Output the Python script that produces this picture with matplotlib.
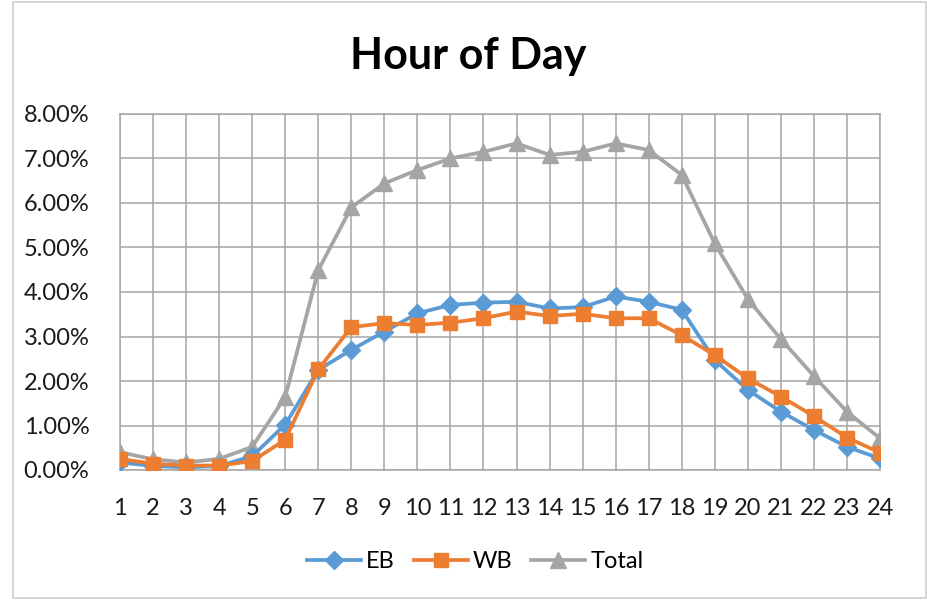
import matplotlib
matplotlib.use("Agg")
import matplotlib.pyplot as plt
from matplotlib.ticker import PercentFormatter
from matplotlib.patches import Rectangle

# hourly share of traffic (percent)
hours = list(range(1, 25))
eb = [0.17, 0.09, 0.06, 0.09, 0.31, 1.02, 2.25, 2.70, 3.11, 3.52, 3.71, 3.76,
      3.78, 3.63, 3.66, 3.90, 3.78, 3.60, 2.47, 1.80, 1.31, 0.90, 0.52, 0.26]
wb = [0.25, 0.14, 0.10, 0.10, 0.20, 0.68, 2.26, 3.21, 3.30, 3.26, 3.31, 3.41,
      3.56, 3.46, 3.51, 3.41, 3.41, 3.03, 2.58, 2.06, 1.65, 1.21, 0.73, 0.39]
total = [0.40, 0.24, 0.17, 0.25, 0.52, 1.64, 4.49, 5.90, 6.44, 6.74, 7.00, 7.15,
         7.34, 7.08, 7.15, 7.34, 7.19, 6.63, 5.09, 3.84, 2.94, 2.11, 1.31, 0.71]
y_ticks = [0, 1, 2, 3, 4, 5, 6, 7, 8]

plt.rcParams['font.family'] = ['Lato', 'DejaVu Sans']

fig = plt.figure(figsize=(9.28, 6), dpi=100)
ax = fig.add_axes([120 / 928, 130 / 600, 760 / 928, 356 / 600])

grid_col = "#A6A6A6"
ax.plot(hours, eb, color="#5B9BD5", lw=2.7, marker="D", ms=9, label="EB", zorder=3)
ax.plot(hours, wb, color="#ED7D31", lw=2.7, marker="s", ms=10.5, label="WB", zorder=4)
ax.plot(hours, total, color="#A5A5A5", lw=2.7, marker="^", ms=11.5, label="Total", zorder=2)

ax.set_xlim(1, 24)
ax.set_ylim(0, 8)
ax.set_xticks(hours)
ax.set_yticks(y_ticks)
ax.yaxis.set_major_formatter(PercentFormatter(decimals=2))
ax.grid(True, color=grid_col, lw=1.1)
ax.set_axisbelow(True)
for s in ax.spines.values():
    s.set_color(grid_col)
    s.set_linewidth(1.1)
ax.tick_params(length=0, labelsize=17, pad=20)
ax.tick_params(axis="y", pad=22)
for lab in ax.get_xticklabels() + ax.get_yticklabels():
    lab.set_color("#1a1a1a")

fig.text(0.505, 0.907, "Hour of Day", ha="center", va="center",
         fontsize=31, fontweight="bold")

fig.legend(loc="center", bbox_to_anchor=(0.512, 0.064), ncol=3, frameon=False,
           fontsize=17, handlelength=2.3, columnspacing=0.8, handletextpad=0.2)

# chart border
fig.patches.append(Rectangle((13 / 928, 2 / 600), 913 / 928, 596 / 600,
                             transform=fig.transFigure, fill=False,
                             edgecolor="#D0D0D0", lw=1.2))

fig.savefig("out.png", dpi=100)
